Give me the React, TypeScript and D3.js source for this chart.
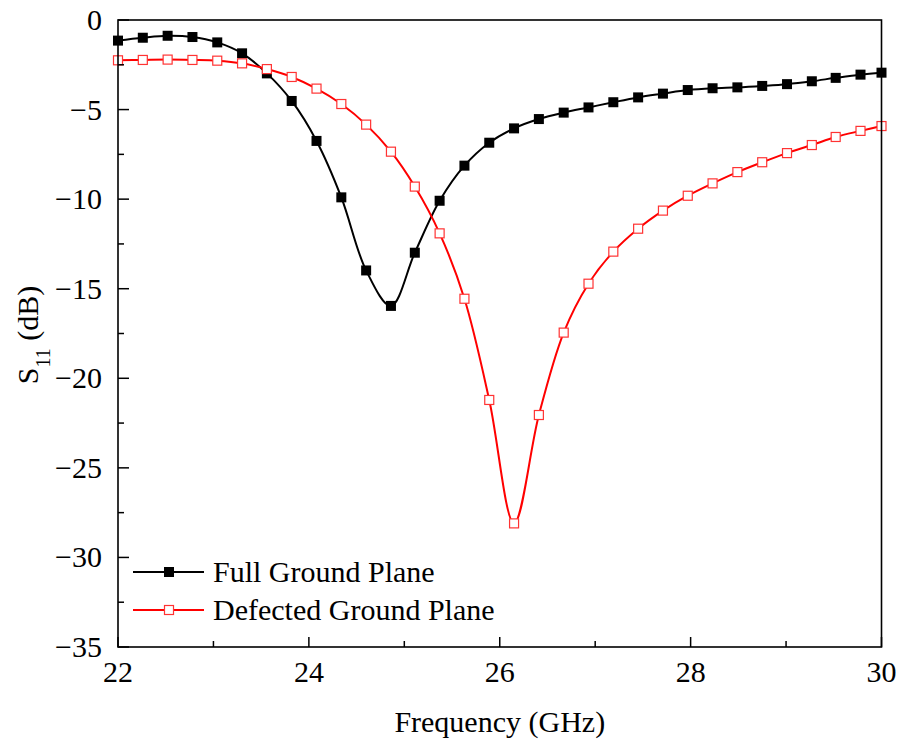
import React from "react";
import * as d3 from "d3";

const freq = [22.0, 22.26, 22.52, 22.78, 23.04, 23.3, 23.56, 23.82, 24.08, 24.34, 24.6, 24.86, 25.11, 25.37, 25.63, 25.89, 26.15, 26.41, 26.67, 26.93, 27.19, 27.45, 27.71, 27.97, 28.23, 28.49, 28.75, 29.01, 29.27, 29.52, 29.78, 30.0];
const fullGround = [-1.15, -0.99, -0.88, -0.95, -1.25, -1.86, -2.98, -4.52, -6.75, -9.9, -13.98, -15.96, -12.99, -10.09, -8.13, -6.85, -6.05, -5.53, -5.17, -4.88, -4.59, -4.32, -4.11, -3.91, -3.81, -3.76, -3.68, -3.58, -3.42, -3.23, -3.05, -2.94];
const defectedGround = [-2.25, -2.23, -2.21, -2.23, -2.27, -2.42, -2.74, -3.18, -3.83, -4.69, -5.84, -7.35, -9.3, -11.91, -15.56, -21.21, -28.1, -22.05, -17.45, -14.72, -12.93, -11.65, -10.64, -9.81, -9.12, -8.49, -7.94, -7.43, -6.98, -6.53, -6.19, -5.92];
const xTicks = [22, 24, 26, 28, 30];
const xMinor = [23, 25, 27, 29];
const yTicks = [0, -5, -10, -15, -20, -25, -30, -35];
const yMinor = [-2.5, -7.5, -12.5, -17.5, -22.5, -27.5, -32.5];
const seriesNames = ["Full Ground Plane", "Defected Ground Plane"];

const FONT = "'Times New Roman', Times, Tinos, 'Liberation Serif', 'DejaVu Serif', 'Noto Serif', serif";

export default function App() {
  const left = 118, right = 881.5, top = 20, bottom = 647;
  const x = d3.scaleLinear().domain([22, 30]).range([left, right]);
  const y = d3.scaleLinear().domain([-35, 0]).range([bottom, top]);
  const line = d3
    .line<[number, number]>()
    .x((d) => x(d[0]))
    .y((d) => y(d[1]))
    .curve(d3.curveCatmullRom.alpha(0.5));
  const blackPts: [number, number][] = freq.map((f, i) => [f, fullGround[i]]);
  const redPts: [number, number][] = freq.map((f, i) => [f, defectedGround[i]]);
  const ms = 10;
  const fmt = (v: number) => (v < 0 ? "\u2212" + Math.abs(v) : String(v));
  const ts = { fontFamily: FONT };

  return (
    <svg width={900} height={745} style={{ display: "block", position: "absolute", left: 0, top: 0, fontFamily: FONT }}>
      <rect x={0} y={0} width={900} height={745} fill="white" />
      <g>
        <path d={line(blackPts) || ""} fill="none" stroke="black" strokeWidth={2} />
        {blackPts.map((d, i) => (
          <rect key={"b" + i} x={x(d[0]) - ms / 2} y={y(d[1]) - ms / 2} width={ms} height={ms} fill="black" />
        ))}
        <path d={line(redPts) || ""} fill="none" stroke="#ff0000" strokeWidth={2} />
        {redPts.map((d, i) => (
          <rect key={"r" + i} x={x(d[0]) - ms / 2 + 0.5} y={y(d[1]) - ms / 2 + 0.5} width={ms - 1} height={ms - 1} fill="white" stroke="#ff3333" strokeWidth={1.2} />
        ))}
      </g>
      <rect x={left} y={top} width={right - left} height={bottom - top} fill="none" stroke="black" strokeWidth={1.6} />
      {xTicks.map((t) => (
        <g key={"xt" + t}>
          <line x1={x(t)} x2={x(t)} y1={bottom} y2={bottom - 10} stroke="black" strokeWidth={1.5} />
          <text style={ts} x={x(t)} y={682} fontSize={30} textAnchor="middle">{t}</text>
        </g>
      ))}
      {xMinor.map((t) => (
        <line key={"xm" + t} x1={x(t)} x2={x(t)} y1={bottom} y2={bottom - 6} stroke="black" strokeWidth={1.5} />
      ))}
      {yTicks.map((t) => (
        <g key={"yt" + t}>
          <line x1={left} x2={left + 11} y1={y(t)} y2={y(t)} stroke="black" strokeWidth={1.5} />
          <text style={ts} x={102} y={y(t) + 10} fontSize={30} textAnchor="end">{fmt(t)}</text>
        </g>
      ))}
      {yMinor.map((t) => (
        <line key={"ym" + t} x1={left} x2={left + 6} y1={y(t)} y2={y(t)} stroke="black" strokeWidth={1.5} />
      ))}
      <text style={ts} x={(left + right) / 2} y={732} fontSize={30} textAnchor="middle">Frequency (GHz)</text>
      <text style={ts} transform="translate(38,335) rotate(-90)" fontSize={30} textAnchor="middle">
        S<tspan fontSize={20} dy={12}>11</tspan><tspan dy={-12}> (dB)</tspan>
      </text>
      <g>
        <line x1={133} x2={204} y1={572} y2={572} stroke="black" strokeWidth={2} />
        <rect x={169 - ms / 2} y={572 - ms / 2} width={ms} height={ms} fill="black" />
        <text style={ts} x={213} y={582} fontSize={30}>{seriesNames[0]}</text>
        <line x1={133} x2={204} y1={610} y2={610} stroke="#ff0000" strokeWidth={2} />
        <rect x={169 - ms / 2 + 0.5} y={610 - ms / 2 + 0.5} width={ms - 1} height={ms - 1} fill="white" stroke="#ff3333" strokeWidth={1.2} />
        <text style={ts} x={213} y={620} fontSize={30}>{seriesNames[1]}</text>
      </g>
    </svg>
  );
}
